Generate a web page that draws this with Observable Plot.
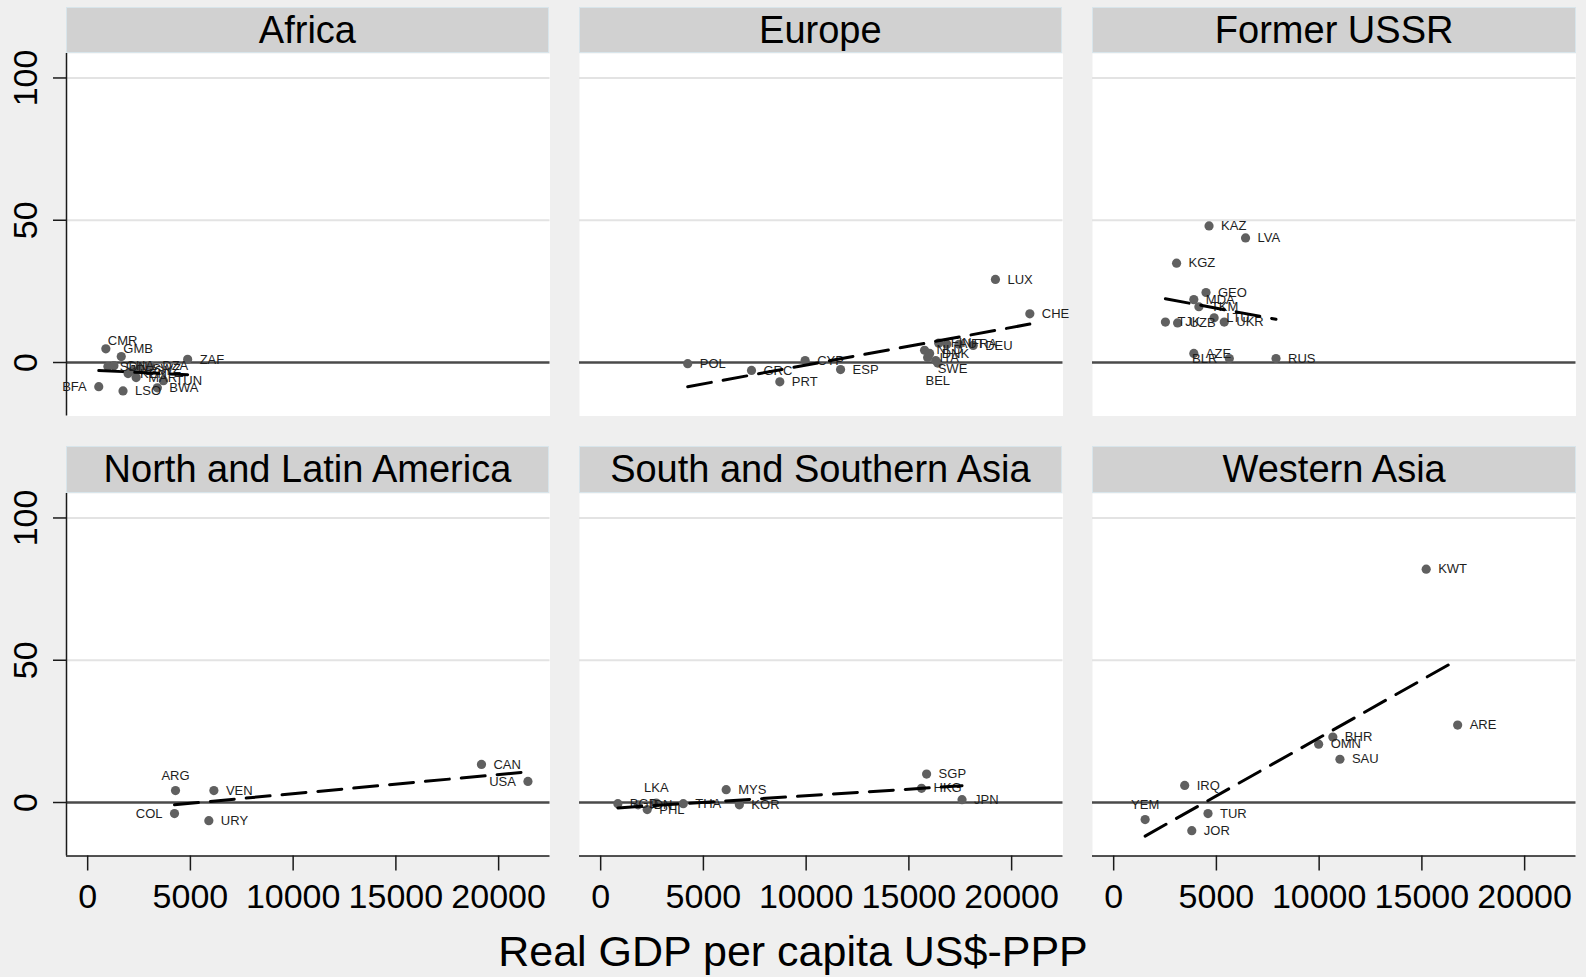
<!DOCTYPE html>
<html><head><meta charset="utf-8">
<script src="https://cdn.jsdelivr.net/npm/d3@7"></script>
<script src="https://cdn.jsdelivr.net/npm/@observablehq/plot@0.6"></script>
<style>
html,body{margin:0;padding:0;background:#efefef;}
#chart{position:relative;width:1586px;height:977px;background:#efefef;font-family:"Liberation Sans",Arial,Helvetica,sans-serif;overflow:hidden;}
.strip{position:absolute;box-sizing:border-box;background:#d1d1d1;border:1.5px solid #d8e5eb;display:flex;align-items:center;justify-content:center;font-size:38px;color:#000;line-height:1;}
.panel{position:absolute;}
#xtitle{position:absolute;left:0;width:1586px;text-align:center;font-size:43px;line-height:43px;top:930px;color:#000;}
</style></head><body><div id="chart"></div>
<script>
// ---------- data ----------
const regions = ["Africa","Europe","Former USSR","North and Latin America","South and Southern Asia","Western Asia"];

const africaCodes = ["CMR","GMB","SDN","GHA","KEN","EGY","SWZ","MAR","DZA","TUN","ZAF","BFA","LSO","BWA"];
const africaGdp   = [885,1636,983,1278,1966,2211,2555,2359,3047,3686,4865,540,1720,3391];
const africaValue = [4.8,2.1,-1.4,-1.1,-3.9,-2.8,-2.1,-5.3,-1.1,-6.4,1.1,-8.5,-10.0,-8.9];

const europeCodes = ["POL","GRC","PRT","CYP","ESP","NLD","DNK","ITA","SWE","BEL","FIN","AUT","FRA","DEU","LUX","CHE"];
const europeGdp   = [4236,7340,8719,9951,11675,15763,16010,15911,16305,16404,16453,16847,17438,18128,19211,20886];
const europeValue = [-0.4,-2.8,-6.8,0.7,-2.5,4.3,3.2,1.8,0.7,-0.2,6.8,6.4,6.4,6.0,29.2,17.1];

const ussrCodes = ["KAZ","LVA","KGZ","GEO","MDA","TKM","LTU","UKR","TJK","UZB","AZE","BLR","RUS"];
const ussrGdp   = [4642,6419,3062,4494,3901,4148,4889,5382,2518,3111,3901,5629,7901];
const ussrValue = [48.0,43.8,34.9,24.6,22.1,19.6,15.7,14.2,14.2,13.9,3.2,1.4,1.4];

const americaCodes = ["ARG","VEN","COL","URY","CAN","USA"];
const americaGdp   = [4275,6143,4226,5897,19165,21426];
const americaValue = [4.2,4.2,-3.9,-6.4,13.4,7.4];

const sAsiaCodes = ["BGD","IDN","PHL","LKA","THA","MYS","KOR","HKG","SGP","JPN"];
const sAsiaGdp   = [837,1823,2266,2709,4020,6108,6749,15615,15862,17586];
const sAsiaValue = [-0.4,-0.8,-2.5,-0.2,-0.4,4.5,-0.8,5.0,10.0,1.0];

const wAsiaCodes = ["KWT","ARE","BHR","OMN","SAU","IRQ","YEM","TUR","JOR"];
const wAsiaGdp   = [15209,16740,10666,9975,11012,3457,1531,4592,3802];
const wAsiaValue = [82.0,27.2,23.0,20.5,15.2,6.0,-6.0,-3.9,-9.9];

// fitted lines (one per region)
const fitStartX = [540,4236,2518,4226,837,1531];
const fitEndX   = [4865,20886,7901,21426,17586,16740];
const fitStartY = [-2.8,-8.5,22.4,-0.8,-1.9,-11.8];
const fitEndY   = [-4.3,13.5,15.2,10.8,5.9,50.2];

const xTicks = [0,5000,10000,15000,20000];
const yTicks = [0,50,100];

// label placement (clock-like position per code, default right)
const labelPos = {CMR:"tr",GMB:"tr",BFA:"l",BLR:"l",COL:"l",USA:"l",ARG:"t",YEM:"t",LKA:"t",SWE:"br",BEL:"b"};

// ---------- build tables ----------
const groups = [
  [africaCodes,africaGdp,africaValue],
  [europeCodes,europeGdp,europeValue],
  [ussrCodes,ussrGdp,ussrValue],
  [americaCodes,americaGdp,americaValue],
  [sAsiaCodes,sAsiaGdp,sAsiaValue],
  [wAsiaCodes,wAsiaGdp,wAsiaValue]
];
const points = groups.flatMap(([c,g,v],i) => c.map((code,j) => ({region:regions[i], code, gdp:g[j], value:v[j]})));
const fits = regions.flatMap((r,i) => [{region:r,x:fitStartX[i],y:fitStartY[i]},{region:r,x:fitEndX[i],y:fitEndY[i]}]);

// ---------- layout ----------
const xDomain = [-1030, 22500];
const yDomain = [-18.8, 108.6];
const colLeft = [65.7, 578.6, 1092.4];
const W = 483.5, H = 362.5;
const stripTop = [6.5, 446];
const stripH = [46, 46.5];
const plotTop = [52.5, 492.5];

const posStyle = {
  r:{dx:12,dy:0,textAnchor:"start"},
  l:{dx:-12,dy:0,textAnchor:"end"},
  t:{dx:0,dy:-15,textAnchor:"middle"},
  tr:{dx:2,dy:-8,textAnchor:"start"},
  br:{dx:2,dy:8,textAnchor:"start"},
  b:{dx:0,dy:18,textAnchor:"middle"}
};
const FONT = "Liberation Sans, Arial, Helvetica, sans-serif";
const chart = document.getElementById("chart");

regions.forEach((reg,i) => {
  const row = Math.floor(i/3), col = i%3;
  const isLeft = col === 0, isBottom = row === 1;

  const strip = document.createElement("div");
  strip.className = "strip";
  strip.textContent = reg;
  Object.assign(strip.style, {left: colLeft[col]+"px", top: stripTop[row]+"px", width: W+"px", height: stripH[row]+"px"});
  chart.appendChild(strip);

  const mL = isLeft ? 66 : 20, mR = 50, mT = 10, mB = isBottom ? 80 : 10;
  const pts = points.filter(d => d.region === reg);
  const fit = fits.filter(d => d.region === reg);

  const marks = [
    Plot.frame({fill:"white", stroke:"none"}),
    Plot.ruleY([50,100], {stroke:"#e3e3e3", strokeWidth:2}),
    Plot.ruleY([0], {stroke:"#4a4a4a", strokeWidth:2.5}),
    Plot.dot(pts, {x:"gdp", y:"value", r:4.6, fill:"#606060"}),
    ...Object.entries(posStyle).map(([k,s]) => Plot.text(pts.filter(d => (labelPos[d.code]||"r") === k), {
      x:"gdp", y:"value", text:"code", dx:s.dx, dy:s.dy, textAnchor:s.textAnchor, fontSize:13, fill:"#1e1e1e", fontFamily:FONT
    })),
    Plot.line(fit, {x:"x", y:"y", stroke:"#000", strokeWidth:3, strokeDasharray:"24,12"})
  ];
  if (isLeft) {
    marks.push(
      Plot.ruleX([xDomain[0]], {stroke:"#1a1a1a", strokeWidth:1.5}),
      Plot.axisY(yTicks, {tickSize:13, tickFormat:() => "", label:null, stroke:"#1a1a1a", strokeWidth:1.5}),
      Plot.text(yTicks, {y:d => d, frameAnchor:"left", dx:-40.5, rotate:-90, text:d => String(d), fontSize:34, fill:"#000", textAnchor:"middle", lineAnchor:"middle", fontFamily:FONT})
    );
  }
  if (isBottom) {
    marks.push(
      Plot.ruleY([yDomain[0]], {stroke:"#1a1a1a", strokeWidth:1.5}),
      Plot.axisX(xTicks, {tickSize:15, tickFormat:() => "", label:null, stroke:"#1a1a1a", strokeWidth:1.5}),
      Plot.text(xTicks, {x:d => d, frameAnchor:"bottom", dy:41, text:d => String(d), fontSize:34, fill:"#000", lineAnchor:"middle", fontFamily:FONT})
    );
  }

  const svg = Plot.plot({
    width: W + mL + mR, height: H + mT + mB,
    marginLeft: mL, marginRight: mR, marginTop: mT, marginBottom: mB,
    x: {domain: xDomain, axis: null, label: null},
    y: {domain: yDomain, axis: null, label: null},
    style: {background:"transparent", overflow:"visible", fontFamily:FONT},
    marks
  });
  svg.classList.add("panel");
  Object.assign(svg.style, {position:"absolute", left:(colLeft[col]-mL)+"px", top:(plotTop[row]-mT)+"px", maxWidth:"none"});
  chart.appendChild(svg);
});

const xt = document.createElement("div");
xt.id = "xtitle";
xt.textContent = "Real GDP per capita US$-PPP";
chart.appendChild(xt);
</script></body></html>
